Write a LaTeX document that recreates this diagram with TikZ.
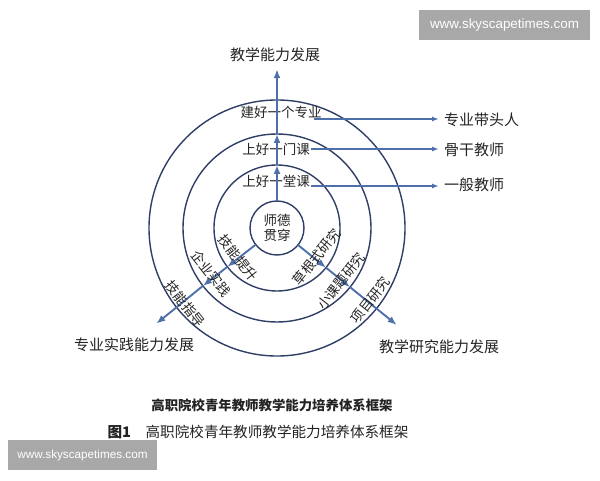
\documentclass[tikz,border=0pt]{standalone}
\usepackage{fontspec}
\newfontfamily\cjk{Noto Sans CJK SC}
\newfontfamily\wmfont{Liberation Sans}
\usetikzlibrary{arrows.meta}
\definecolor{ringblue}{RGB}{48,62,102}
\definecolor{arrowblue}{RGB}{78,112,170}
\definecolor{inkgray}{RGB}{35,35,35}
\definecolor{markgray}{RGB}{168,168,168}
\begin{document}
\begin{tikzpicture}[x=1pt,y=1pt,
    ring/.style={circle,draw=ringblue,line width=1.4pt,inner sep=0pt,outer sep=0pt},
    growth/.style={draw=arrowblue,line width=1.9pt,-{Latex[length=9pt,width=7pt]}},
    level/.style={draw=arrowblue,line width=1.5pt,-{Latex[length=7pt,width=5pt]}},
    lbl/.style={font=\cjk\fontsize{13.5}{15}\selectfont,text=inkgray,inner sep=1pt},
    goal/.style={font=\cjk\fontsize{15}{17}\selectfont,text=inkgray,inner sep=1pt},
    wmark/.style={fill=markgray,text=white,inner sep=0pt}]
    \useasboundingbox (0,0) rectangle (600,480);
    \coordinate (c) at (277,252);
    \node[ring,minimum size=256] (r3) at (c) {};
    \node[ring,minimum size=188] (r2) at (c) {};
    \node[ring,minimum size=126] (r1) at (c) {};
    \node[ring,minimum size=54,lbl,align=center] (core) at (c) {师德\\贯穿};
    \node[goal] (teach) at (275,425) {教学能力发展};
    \node[goal] (prac) at (134,135) {专业实践能力发展};
    \node[goal] (resr) at (439,133) {教学研究能力发展};
    \node[lbl] (row1) at (281,368) {建好一个专业};
    \node[lbl] (row2) at (276,331) {上好一门课};
    \node[lbl] (row3) at (276,299) {上好一堂课};
    \node[goal,anchor=west] (lead) at (443,360) {专业带头人};
    \node[goal,anchor=west] (bone) at (443,330) {骨干教师};
    \node[goal,anchor=west] (plain) at (443,295) {一般教师};
    \coordinate (pt) at ([shift={(218.4:154)}]c);
    \coordinate (rt) at ([shift={(-39:154)}]c);
    \coordinate (s1) at ([xshift=-9pt,yshift=-7pt]row1.east);
    \coordinate (s3) at ([yshift=-5pt]row3.east);
    \draw[growth] (core.north) -- (r1.north);
    \draw[growth] (r1.north) -- (r2.north);
    \draw[growth] (r2.north) -- ([yshift=-6pt]r2.north |- teach.south);
    \draw[growth] (core.218) -- (r1.218);
    \draw[growth] (r1.218) -- (r2.218);
    \draw[growth] (r2.218) -- (pt);
    \draw[growth] (core.-39) -- (r1.-39);
    \draw[growth] (r1.-39) -- (r2.-39);
    \draw[growth] (r2.-39) -- (rt);
    \draw[level] (s1) -- ([xshift=-4pt]s1 -| lead.west);
    \draw[level] (row2.east) -- ([xshift=-4pt]row2.east -| bone.west);
    \draw[level] (s3) -- ([xshift=-4pt]s3 -| plain.west);
    \node[lbl,rotate=-52] (skup) at ([shift={(217.6:49)}]c) {技能提升};
    \node[lbl,rotate=-52] (firm) at ([shift={(214.9:80)}]c) {企业实践};
    \node[lbl,rotate=-52] (guide) at ([shift={(219.6:119)}]c) {技能指导};
    \node[lbl,rotate=52] (grass) at ([shift={(-36:49)}]c) {草根式研究};
    \node[lbl,rotate=52] (small) at ([shift={(-39.6:83)}]c) {小课题研究};
    \node[lbl,rotate=52] (proj) at ([shift={(-37.7:118)}]c) {项目研究};
    \node[font=\cjk\bfseries\fontsize{13.4}{15}\selectfont,text=inkgray] (cap1) at (272,75) {高职院校青年教师教学能力培养体系框架};
    \node[font=\cjk\fontsize{14.6}{16}\selectfont,text=inkgray] (cap2) at (258,48) {{\bfseries 图1}\hspace{1em}高职院校青年教师教学能力培养体系框架};
    \node[wmark,minimum width=171,minimum height=30,font=\wmfont\fontsize{13.4}{15}\selectfont] (wm1) at (504.5,455) {www.skyscapetimes.com};
    \node[wmark,minimum width=149,minimum height=30,font=\wmfont\fontsize{11.7}{13}\selectfont] (wm2) at (82.5,25) {www.skyscapetimes.com};
\end{tikzpicture}
\end{document}
